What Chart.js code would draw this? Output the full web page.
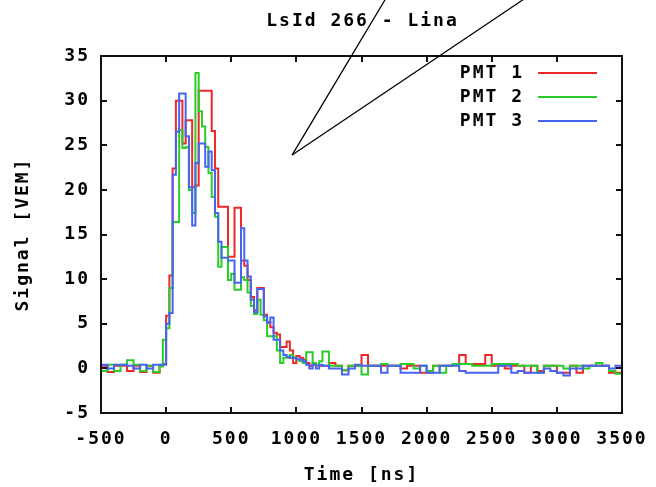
<!DOCTYPE html>
<html>
<head>
<meta charset="utf-8">
<script src="https://cdn.jsdelivr.net/npm/chart.js@4"></script>
<style>
html,body{margin:0;padding:0;background:#fff;}
#wrap{width:656px;height:487px;}
</style>
</head>
<body>
<div id="wrap"><canvas id="c" width="656" height="487"></canvas></div>
<script>
// bin start times [ns] (last entry closes the final bin)
const times = [
  -500,-450,-400,-350,-300,-250,-200,-150,-100,-50,-25,
  0,25,50,75,100,125,150,175,200,225,250,275,300,325,350,375,
  400,425,450,475,500,525,550,575,600,625,650,675,700,725,750,775,
  800,825,850,875,900,925,950,975,1000,1025,1050,1075,1100,1125,1150,1175,
  1200,1250,1300,1350,1400,1450,1500,1550,1600,1650,1700,1750,1800,1850,1900,1950,
  2000,2050,2100,2150,2200,2250,2300,2350,2400,2450,2500,2550,2600,2650,2700,2750,
  2800,2850,2900,2950,3000,3050,3100,3150,3200,3250,3300,3350,3400,3450,
  3500
];

// signal [VEM] per bin
const pmt1 = [
  0.3,-0.4,0.3,0.3,-0.3,0.3,-0.4,0.3,-0.5,0.3,0.5,
  5.9,10.4,22.4,30.0,30.0,25.2,27.8,27.8,
  20.3,20.5,31.1,31.1,31.1,31.1,26.6,22.4,
  18.1,18.1,18.1,12.5,12.5,18.0,18.0,12.1,
  11.5,9.9,8.0,6.5,9.0,9.0,6.0,5.2,
  4.6,4.0,3.8,2.4,2.4,3.0,2.0,0.6,
  1.4,1.2,1.0,0.6,0.3,0.6,0.3,0.3,
  0.3,0.6,0.3,-0.2,0.3,0.3,1.5,0.3,0.3,0.3,
  0.3,0.3,0.0,0.3,0.3,-0.5,-0.5,0.3,0.3,0.3,
  0.5,1.5,0.5,0.5,0.5,1.5,0.3,0.3,0.0,0.3,
  0.3,-0.5,0.3,-0.3,0.3,0.3,-0.5,-0.5,0.3,-0.5,
  0.3,0.3,0.3,0.3,-0.5,-0.5
];
const pmt2 = [
  -0.3,0.4,-0.3,0.4,0.9,0.4,-0.3,0.3,-0.4,0.2,3.2,
  4.5,9.0,16.4,16.4,26.7,24.7,24.8,20.0,
  17.4,33.1,28.8,27.1,24.8,21.9,19.2,17.0,
  11.4,13.6,13.6,9.9,10.6,8.8,8.8,10.2,
  9.9,8.5,7.0,6.1,7.7,6.0,5.4,3.6,
  3.6,3.6,2.0,0.6,1.2,1.2,1.5,1.2,
  1.0,0.8,0.6,1.8,1.8,0.6,0.4,0.8,
  1.9,0.3,0.3,-0.2,0.3,0.3,-0.7,0.3,0.3,0.5,
  0.3,0.3,0.5,0.5,0.0,0.3,-0.3,0.3,-0.5,0.3,
  0.5,0.5,0.5,0.3,0.3,0.3,0.5,0.5,0.5,0.5,
  0.3,0.3,0.3,-0.5,0.3,0.3,0.3,0.0,0.3,0.3,
  0.0,0.3,0.6,0.3,-0.3,-0.6
];
const pmt3 = [
  0.4,0.0,0.4,0.4,0.3,0.0,0.4,0.0,0.4,0.4,0.4,
  5.0,6.2,21.7,26.5,30.8,30.8,26.0,20.3,
  16.0,23.0,25.2,25.2,22.6,24.3,22.2,17.4,
  14.2,12.4,12.4,12.1,12.1,9.6,9.6,15.7,
  12.1,10.3,7.7,6.3,8.9,8.9,5.8,5.1,
  5.7,3.2,3.2,2.0,1.5,1.3,1.2,1.2,
  1.0,1.0,0.8,0.4,0.0,0.4,0.0,0.4,
  0.3,0.0,0.0,-0.7,0.0,0.4,0.3,0.3,0.3,-0.5,
  0.3,0.3,-0.5,-0.5,-0.5,0.3,-0.5,-0.5,0.3,0.3,
  0.3,-0.3,-0.5,-0.5,-0.5,-0.5,-0.5,0.3,0.3,-0.5,
  -0.3,-0.5,-0.5,-0.5,0.0,-0.3,-0.5,-0.8,0.0,0.0,
  0.3,0.3,0.3,0.3,0.0,0.3
];

const seriesNames = ['PMT 1', 'PMT 2', 'PMT 3'];
const seriesColors = ['rgb(238,40,40)', 'rgb(40,205,40)', 'rgb(70,100,240)'];
const xTicks = [-500, 0, 500, 1000, 1500, 2000, 2500, 3000, 3500];
const yTicks = [-5, 0, 5, 10, 15, 20, 25, 30, 35];

// the two hand-drawn pen strokes, in data units
const penLines = [[1681, 41.3, 967, 23.9], [2740, 41.3, 967, 23.9]];

const FONT = "'DejaVu Sans Mono', monospace";
const SPACING = '2px';
Chart.defaults.font = { family: FONT, size: 18, weight: 'bold' };
Chart.defaults.color = '#000';

// step trace: each value holds until the next bin start
function toPoints(vals) {
  return times.map((t, i) => ({ x: t, y: vals[Math.min(i, vals.length - 1)] }));
}

// gnuplot's font is wide; widen the monospace a bit
const spacing = {
  id: 'spacing',
  beforeLayout(chart) { chart.ctx.letterSpacing = SPACING; },
  beforeDraw(chart) { chart.ctx.letterSpacing = SPACING; }
};

const frame = {
  id: 'frame',
  afterDraw(chart) {
    const { ctx, chartArea: a, scales: { x, y } } = chart;
    ctx.save();
    ctx.strokeStyle = '#111';
    ctx.lineWidth = 2;
    ctx.strokeRect(a.left, a.top, a.right - a.left, a.bottom - a.top);
    ctx.beginPath();
    xTicks.slice(1, -1).forEach(v => {
      const px = Math.round(x.getPixelForValue(v));
      ctx.moveTo(px, a.bottom); ctx.lineTo(px, a.bottom - 6);
      ctx.moveTo(px, a.top); ctx.lineTo(px, a.top + 6);
    });
    yTicks.slice(1, -1).forEach(v => {
      const py = Math.round(y.getPixelForValue(v));
      ctx.moveTo(a.left, py); ctx.lineTo(a.left + 6, py);
      ctx.moveTo(a.right, py); ctx.lineTo(a.right - 6, py);
    });
    ctx.stroke();

    // legend, gnuplot style
    ctx.font = 'bold 18px ' + FONT;
    ctx.letterSpacing = SPACING;
    ctx.textAlign = 'right';
    ctx.textBaseline = 'middle';
    seriesNames.forEach((n, i) => {
      const ly = a.top + 17 + i * 24;
      ctx.fillStyle = '#000';
      ctx.fillText(n, a.right - 98, ly);
      ctx.strokeStyle = seriesColors[i];
      ctx.beginPath();
      ctx.moveTo(a.right - 84, ly); ctx.lineTo(a.right - 25, ly);
      ctx.stroke();
    });

    // title
    ctx.textAlign = 'center';
    ctx.fillStyle = '#000';
    ctx.fillText('LsId 266 - Lina', (a.left + a.right) / 2 + 1, 21);

    // pen strokes
    ctx.strokeStyle = '#000';
    ctx.lineWidth = 1.3;
    penLines.forEach(([x1, y1, x2, y2]) => {
      ctx.beginPath();
      ctx.moveTo(x.getPixelForValue(x1), y.getPixelForValue(y1));
      ctx.lineTo(x.getPixelForValue(x2), y.getPixelForValue(y2));
      ctx.stroke();
    });
    ctx.restore();
  }
};

new Chart(document.getElementById('c'), {
  type: 'line',
  data: {
    datasets: [pmt1, pmt2, pmt3].map((vals, i) => ({
      label: seriesNames[i],
      data: toPoints(vals),
      borderColor: seriesColors[i],
      borderWidth: 2,
      pointRadius: 0,
      stepped: 'before',
      fill: false,
      order: 2 - i
    }))
  },
  options: {
    responsive: false,
    animation: false,
    devicePixelRatio: 1,
    layout: { padding: { top: 56, right: 34, bottom: 0, left: 0 } },
    plugins: { legend: { display: false }, tooltip: { enabled: false } },
    scales: {
      x: {
        type: 'linear', min: -500, max: 3500,
        ticks: { stepSize: 500, padding: 16, maxRotation: 0, autoSkip: false,
                 callback: v => String(v) },
        grid: { display: false, drawTicks: false },
        border: { display: false },
        title: { display: true, text: 'Time [ns]', padding: { top: 0, bottom: 1 } },
        afterFit(s) {
          s.height = 74;
          // labels may overhang the frame, like gnuplot
          s.paddingLeft = 0;
          s.paddingRight = 0;
        }
      },
      y: {
        min: -5, max: 35,
        ticks: { stepSize: 5, padding: 11, callback: v => String(v) },
        grid: { display: false, drawTicks: false },
        border: { display: false },
        title: { display: true, text: 'Signal [VEM]', padding: { top: 13, bottom: 0 } },
        afterFit(s) { s.width = 101; }
      }
    }
  },
  plugins: [spacing, frame]
});
</script>
</body>
</html>
